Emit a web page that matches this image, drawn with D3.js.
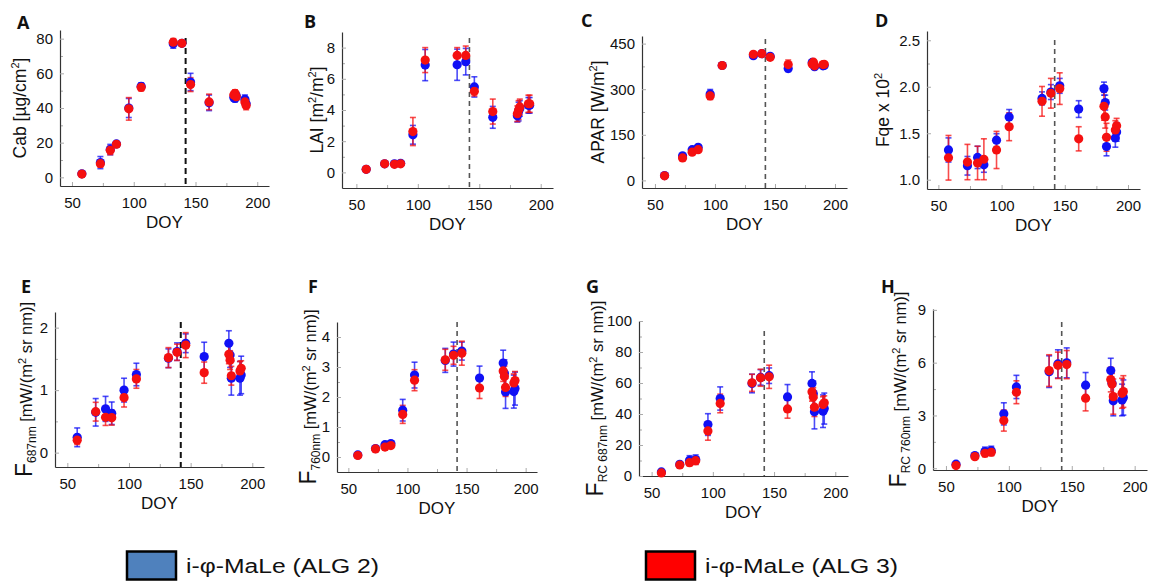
<!DOCTYPE html>
<html>
<head>
<meta charset="utf-8">
<script src="https://cdn.jsdelivr.net/npm/d3@7"></script>
<style>
	body { margin: 0; background: #fff; }
	svg text { font-family: "Liberation Sans", Arial, sans-serif; fill: #111; }
	.tick text { font-size: 15px; }
	.axis .domain { stroke: #333; stroke-width: 1.2; }
	.axis .tick line { stroke: #aaa; }
	.panel-label { font-family: "Open Sans", "Liberation Sans", sans-serif; font-weight: bold; font-size: 18px; }
	.x-title { font-size: 17px; }
</style>
</head>
<body>
<svg id="chart" width="1157" height="582"></svg>
<script>
// day of year of each field campaign
const doy = [58, 73, 81, 86, 96, 106, 132, 139, 146, 161, 181, 182, 183, 190, 191];
const xTicks = [50, 100, 150, 200];
const xMinorTicks = [75, 125, 175];
const eventDoy = 142;

// A - Cab
const cabAlg2 = [2, 8.5, 16, 19.3, 40, 52.5, 77, 77.3, 55, 43, 46, 45.5, 47, 45, 42.5];
const cabAlg2Err = [1, 3.5, 3, 1, 5.5, 2, 2.5, 1.5, 5, 4.5, 2, 2, 2, 2.5, 2.5];
const cabAlg3 = [1.9, 7.9, 15.6, 19.1, 39.5, 51.9, 78, 77.3, 53.5, 43.5, 47.5, 48.5, 46.5, 43.5, 41.5];
const cabAlg3Err = [1, 2, 2.5, 1, 6.5, 2, 2, 1.5, 4, 4.5, 2, 2, 2, 2, 2.5];

// B - LAI
const laiAlg2 = [0.2, 0.55, 0.55, 0.58, 2.41, 6.88, 6.9, 7.1, 5.48, 3.53, 3.63, 3.9, 4.1, 4.3, 4.3];
const laiAlg2Err = [0.05, 0.12, 0.08, 0.08, 0.6, 1.0, 1.0, 0.85, 0.65, 0.7, 0.4, 0.6, 0.5, 0.5, 0.5];
const laiAlg3 = [0.2, 0.55, 0.52, 0.55, 2.62, 7.2, 7.5, 7.5, 5.2, 3.9, 3.76, 4.0, 4.2, 4.4, 4.4];
const laiAlg3Err = [0.05, 0.1, 0.08, 0.08, 0.9, 0.8, 0.5, 0.6, 0.3, 0.8, 0.5, 0.6, 0.5, 0.55, 0.55];

// C - APAR
const aparAlg2 = [16, 81, 101, 109, 284, 378, 410, 417, 408, 368, 388, 384, 374, 377, 378];
const aparAlg2Err = [4, 6, 6, 7, 15, 5, 6, 5, 6, 10, 8, 8, 8, 8, 8];
const aparAlg3 = [15, 74, 93, 101, 278, 378, 415, 417, 405, 381, 383, 389, 377, 381, 382];
const aparAlg3Err = [4, 5, 6, 6, 12, 5, 5, 5, 5, 15, 8, 8, 8, 8, 8];

// D - Fqe x 10^2
const fqeAlg2 = [1.32, 1.15, 1.24, 1.16, 1.425, 1.675, 1.875, 1.943, 2.01, 1.76, 1.98, 1.83, 1.357, 1.45, 1.514];
const fqeAlg2Err = [0.13, 0.1, 0.12, 0.08, 0.07, 0.08, 0.07, 0.08, 0.08, 0.09, 0.07, 0.08, 0.1, 0.1, 0.1];
const fqeAlg3 = [1.236, 1.19, 1.18, 1.22, 1.32, 1.57, 1.843, 1.93, 1.98, 1.44, 1.79, 1.675, 1.457, 1.535, 1.58];
const fqeAlg3Err = [0.24, 0.19, 0.18, 0.22, 0.2, 0.15, 0.16, 0.16, 0.17, 0.13, 0.15, 0.12, 0.15, 0.1, 0.08];

// E - F 687nm
const f687Alg2 = [0.245, 0.645, 0.7, 0.63, 1.0, 1.25, 1.51, 1.616, 1.75, 1.536, 1.75, 1.563, 1.19, 1.19, 1.243];
const f687Alg2Err = [0.15, 0.22, 0.2, 0.18, 0.19, 0.18, 0.15, 0.14, 0.15, 0.23, 0.2, 0.2, 0.27, 0.27, 0.3];
const f687Alg3 = [0.2, 0.655, 0.565, 0.56, 0.88, 1.18, 1.52, 1.605, 1.72, 1.28, 1.573, 1.48, 1.23, 1.307, 1.35];
const f687Alg3Err = [0.07, 0.15, 0.13, 0.12, 0.15, 0.15, 0.16, 0.13, 0.2, 0.17, 0.15, 0.15, 0.15, 0.15, 0.12];

// F - F 760nm
const f760Alg2 = [0.07, 0.28, 0.41, 0.45, 1.56, 2.73, 3.22, 3.43, 3.53, 2.63, 3.13, 2.79, 2.17, 2.18, 2.28];
const f760Alg2Err = [0.04, 0.05, 0.08, 0.08, 0.36, 0.43, 0.4, 0.4, 0.3, 0.4, 0.43, 0.45, 0.55, 0.55, 0.55];
const f760Alg3 = [0.05, 0.27, 0.33, 0.38, 1.42, 2.56, 3.24, 3.39, 3.46, 2.3, 2.87, 2.68, 2.32, 2.47, 2.55];
const f760Alg3Err = [0.03, 0.05, 0.07, 0.07, 0.3, 0.35, 0.35, 0.3, 0.4, 0.35, 0.35, 0.35, 0.3, 0.3, 0.3];

// G - F RC 687nm
const frc687Alg2 = [2.6, 7.5, 10.1, 10.6, 33.2, 50, 59.7, 63.6, 64.7, 51, 59.7, 53.2, 41.4, 41.8, 43.5];
const frc687Alg2Err = [1.5, 1.5, 3, 3, 7, 7.5, 6, 5, 5, 8, 7.5, 8, 11, 10.5, 10];
const frc687Alg3 = [2, 7.1, 8.6, 9.9, 29.1, 46.8, 60.1, 63.4, 64, 43.3, 54.3, 51, 44.4, 46.1, 47.2];
const frc687Alg3Err = [1, 1.5, 2, 2.5, 6, 6, 5.5, 5.5, 7.5, 6, 6, 6, 6, 5, 4.5];

// H - F RC 760nm
const frc760Alg2 = [0.23, 0.72, 0.95, 1.0, 3.09, 4.62, 5.49, 5.93, 5.99, 4.72, 5.55, 4.83, 3.83, 3.88, 4.02];
const frc760Alg2Err = [0.1, 0.12, 0.25, 0.25, 0.63, 0.66, 0.9, 0.8, 0.85, 0.72, 0.7, 0.7, 0.85, 0.9, 1.0];
const frc760Alg3 = [0.15, 0.66, 0.85, 0.91, 2.71, 4.32, 5.55, 5.85, 5.89, 3.98, 5.04, 4.79, 4.07, 4.26, 4.36];
const frc760Alg3Err = [0.08, 0.1, 0.2, 0.2, 0.6, 0.65, 0.9, 0.75, 0.8, 0.72, 0.7, 0.6, 1.0, 0.85, 0.9];

const legendNames = ['i-φ-MaLe (ALG 2)', 'i-φ-MaLe (ALG 3)'];

const BLUE = '#1010f5';
const RED = '#f51010';

// pieces of the rotated y titles: [text, size, dy]
const fUnit = (sub) => [['F', 23, 0], [sub, 12, 4], [' [mW/(m', 16.5, -4], ['2', 11, -6], [' sr nm)]', 16.5, 6]];

const panels = [
	{ id: 'A', alg2: cabAlg2, alg2Err: cabAlg2Err, alg3: cabAlg3, alg3Err: cabAlg3Err,
	  left: 60, right: 269, top: 30, bottom: 186, xDomain: [40.3, 209.5], yDomain: [-5, 85],
	  yTicks: [0, 20, 40, 60, 80], yMinor: [10, 30, 50, 70], fmt: d3.format('d'),
	  dashTop: 38, dark: true, labelX: 17, labelY: 29, titleX: 20,
	  title: [['Cab [µg/cm', 17.5, 0], ['2', 11, -7], [']', 17.5, 7]] },
	{ id: 'B', alg2: laiAlg2, alg2Err: laiAlg2Err, alg3: laiAlg3, alg3Err: laiAlg3Err,
	  left: 342, right: 553, top: 32, bottom: 188, xDomain: [38.3, 210], yDomain: [-1, 9],
	  yTicks: [0, 2, 4, 6, 8], yMinor: [1, 3, 5, 7], fmt: d3.format('d'),
	  dashTop: 38, dark: false, labelX: 304, labelY: 28, titleX: 317,
	  title: [['LAI [m', 17.5, 0], ['2', 11, -7], ['/m', 17.5, 7], ['2', 11, -7], [']', 17.5, 7]] },
	{ id: 'C', alg2: aparAlg2, alg2Err: aparAlg2Err, alg3: aparAlg3, alg3Err: aparAlg3Err,
	  left: 642, right: 847, top: 36, bottom: 188, xDomain: [39.2, 210], yDomain: [-25, 475],
	  yTicks: [0, 150, 300, 450], yMinor: [75, 225, 375], fmt: d3.format('d'),
	  dashTop: 39, dark: false, labelX: 581, labelY: 27, titleX: 598,
	  title: [['APAR [W/m', 17.5, 0], ['2', 11, -7], [']', 17.5, 7]] },
	{ id: 'D', alg2: fqeAlg2, alg2Err: fqeAlg2Err, alg3: fqeAlg3, alg3Err: fqeAlg3Err,
	  left: 927, right: 1140, top: 31, bottom: 189, xDomain: [41, 209.5], yDomain: [0.9, 2.6],
	  yTicks: [1.0, 1.5, 2.0, 2.5], yMinor: [1.25, 1.75, 2.25], fmt: d3.format('.1f'),
	  dashTop: 40, dark: false, labelX: 875, labelY: 27, titleX: 883,
	  title: [['Fqe x 10', 17.5, 0], ['2', 11, -7]] },
	{ id: 'E', alg2: f687Alg2, alg2Err: f687Alg2Err, alg3: f687Alg3, alg3Err: f687Alg3Err,
	  left: 55, right: 264, top: 312, bottom: 467, xDomain: [40, 209.5], yDomain: [-0.23, 2.25],
	  yTicks: [0, 1, 2], yMinor: [0.5, 1.5], fmt: d3.format('d'),
	  dashTop: 322, dark: true, labelX: 21, labelY: 293, titleX: 26,
	  title: fUnit('687nm') },
	{ id: 'F', alg2: f760Alg2, alg2Err: f760Alg2Err, alg3: f760Alg3, alg3Err: f760Alg3Err,
	  left: 337, right: 537, top: 322, bottom: 472, xDomain: [40.4, 209.6], yDomain: [-0.5, 4.5],
	  yTicks: [0, 1, 2, 3, 4], yMinor: [0.5, 1.5, 2.5, 3.5], fmt: d3.format('d'),
	  dashTop: 322, dark: false, labelX: 308, labelY: 293, titleX: 310,
	  title: fUnit('760nm') },
	{ id: 'G', alg2: frc687Alg2, alg2Err: frc687Alg2Err, alg3: frc687Alg3, alg3Err: frc687Alg3Err,
	  left: 639, right: 848, top: 321, bottom: 476, xDomain: [39.7, 210.4], yDomain: [0, 100],
	  yTicks: [0, 20, 40, 60, 80, 100], yMinor: [10, 30, 50, 70, 90], fmt: d3.format('d'),
	  dashTop: 331, dark: false, labelX: 586, labelY: 293, titleX: 597,
	  title: fUnit('RC 687nm') },
	{ id: 'H', alg2: frc760Alg2, alg2Err: frc760Alg2Err, alg3: frc760Alg3, alg3Err: frc760Alg3Err,
	  left: 933, right: 1147, top: 309, bottom: 470, xDomain: [39.7, 209.8], yDomain: [-0.1, 9.05],
	  yTicks: [0, 3, 6, 9], yMinor: [1.5, 4.5, 7.5], fmt: d3.format('d'),
	  dashTop: 322, dark: false, labelX: 881, labelY: 293, titleX: 900,
	  title: fUnit('RC 760nm') }
];

const svg = d3.select('#chart');

panels.forEach(p => drawPanel(svg, p));
addLegend(svg);

function drawPanel(svg, p) {
	const x = d3.scaleLinear().domain(p.xDomain).range([p.left, p.right]);
	const y = d3.scaleLinear().domain(p.yDomain).range([p.bottom, p.top]);
	const g = svg.append('g').attr('class', 'panel panel-' + p.id);

	// minor ticks first, no labels
	g.append('g')
		.attr('class', 'axis')
		.attr('transform', `translate(0,${p.bottom})`)
		.call(d3.axisBottom(x).tickValues(xMinorTicks).tickFormat('').tickSizeInner(-3).tickSizeOuter(0))
		.select('.domain').remove();
	g.append('g')
		.attr('class', 'axis')
		.attr('transform', `translate(${p.left},0)`)
		.call(d3.axisLeft(y).tickValues(p.yMinor).tickFormat('').tickSizeInner(-3).tickSizeOuter(0))
		.select('.domain').remove();

	g.append('g')
		.attr('class', 'axis')
		.attr('transform', `translate(0,${p.bottom})`)
		.call(d3.axisBottom(x).tickValues(xTicks).tickSizeInner(-4).tickSizeOuter(0).tickPadding(11));
	g.append('g')
		.attr('class', 'axis')
		.attr('transform', `translate(${p.left},0)`)
		.call(d3.axisLeft(y).tickValues(p.yTicks).tickFormat(p.fmt).tickSizeInner(-4).tickSizeOuter(0).tickPadding(7));

	// dashed line, event date
	g.append('line')
		.attr('x1', x(eventDoy)).attr('x2', x(eventDoy))
		.attr('y1', p.dashTop).attr('y2', p.bottom)
		.attr('stroke', p.dark ? '#111' : '#555')
		.attr('stroke-width', p.dark ? 2 : 1.6)
		.attr('stroke-dasharray', p.dark ? '6,4' : '5,4');

	const series = [
		{ vals: p.alg2, errs: p.alg2Err, colour: BLUE },
		{ vals: p.alg3, errs: p.alg3Err, colour: RED }
	];

	// error bars
	series.forEach(s => {
		const bars = g.append('g')
			.attr('stroke', s.colour)
			.attr('stroke-width', 1.6)
			.attr('stroke-opacity', 0.75)
			.selectAll('g')
			.data(doy.map((d, i) => ({ d, v: s.vals[i], e: s.errs[i] })))
			.enter().append('g');
		bars.append('line')
			.attr('x1', d => x(d.d)).attr('x2', d => x(d.d))
			.attr('y1', d => y(d.v - d.e)).attr('y2', d => y(d.v + d.e));
		bars.append('line')
			.attr('x1', d => x(d.d) - 3).attr('x2', d => x(d.d) + 3)
			.attr('y1', d => y(d.v - d.e)).attr('y2', d => y(d.v - d.e));
		bars.append('line')
			.attr('x1', d => x(d.d) - 3).attr('x2', d => x(d.d) + 3)
			.attr('y1', d => y(d.v + d.e)).attr('y2', d => y(d.v + d.e));
	});

	// points
	series.forEach(s => {
		g.append('g')
			.selectAll('circle')
			.data(doy.map((d, i) => ({ d, v: s.vals[i] })))
			.enter().append('circle')
				.attr('cx', d => x(d.d))
				.attr('cy', d => y(d.v))
				.attr('r', 4.6)
				.attr('fill', s.colour);
	});

	// labels
	g.append('text')
		.attr('class', 'panel-label')
		.attr('x', p.labelX).attr('y', p.labelY)
		.text(p.id);

	g.append('text')
		.attr('class', 'x-title')
		.attr('x', (p.left + p.right) / 2)
		.attr('y', p.bottom + 42)
		.attr('text-anchor', 'middle')
		.text('DOY');

	const title = g.append('text')
		.attr('transform', `translate(${p.titleX},${(p.top + p.bottom) / 2}) rotate(-90)`)
		.attr('text-anchor', 'middle')
		.attr('y', 6);
	p.title.forEach(([t, size, dy]) => {
		title.append('tspan')
			.attr('font-size', size + 'px')
			.attr('dy', dy)
			.text(t);
	});
}

function addLegend(svg) {
	const items = [
		{ name: legendNames[0], fill: '#4f81bd', x: 127 },
		{ name: legendNames[1], fill: '#ff0000', x: 646 }
	];
	const legend = svg.append('g').attr('class', 'legend');
	items.forEach(it => {
		legend.append('rect')
			.attr('x', it.x).attr('y', 551.5)
			.attr('width', 49).attr('height', 28)
			.attr('fill', it.fill)
			.attr('stroke', '#000')
			.attr('stroke-width', 2.5);
		legend.append('text')
			.attr('x', it.x + 59).attr('y', 573)
			.attr('font-size', '20px')
			.attr('textLength', 193)
			.attr('lengthAdjust', 'spacingAndGlyphs')
			.text(it.name);
	});
}
</script>
</body>
</html>
